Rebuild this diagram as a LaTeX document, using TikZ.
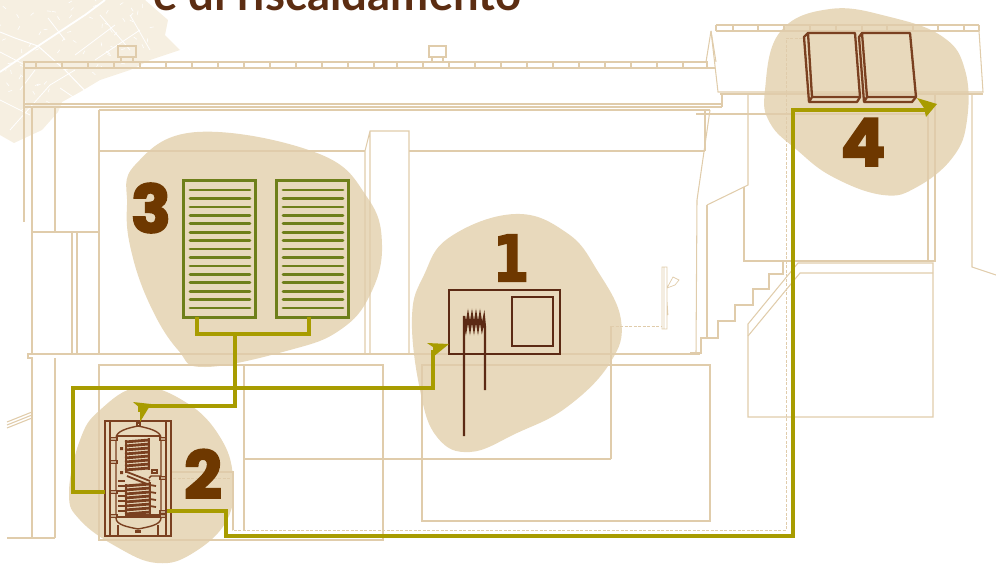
\documentclass[tikz,border=0pt]{standalone}
\usepackage{fontspec}
\setmainfont{Lato}
\newfontfamily\digitfont[FakeBold=3]{Poppins Bold}
\newfontfamily\onefont[FakeBold=2.5]{DejaVu Sans Bold}
\usetikzlibrary{calc}
\definecolor{blobc}{HTML}{E8D9BC}
\definecolor{leafc}{HTML}{F6EFE1}
\definecolor{wall}{HTML}{E0CCAB}
\definecolor{digitc}{HTML}{6E3800}
\definecolor{titlec}{HTML}{5C2D12}
\definecolor{coilc}{HTML}{5C2A14}
\definecolor{tankc}{HTML}{7A4020}
\definecolor{green1}{HTML}{6E7F1A}
\definecolor{pipec}{HTML}{A89C00}
\tikzset{
  blobfill/.style={fill=blobc,draw=none},
  wallline/.style={draw=wall,line width=1.05pt},
  walldash/.style={draw=wall,line width=1pt,dash pattern=on 3pt off 1.5pt},
  digitnode/.style={font=\digitfont\fontsize{66}{66}\selectfont,text=digitc,inner sep=0pt},
  shutter/.style={draw=green1,line width=3pt,fill=none,minimum width=72pt,minimum height=137pt,inner sep=0pt},
  slat/.style={draw=green1,line width=2.7pt,line cap=round},
  pipe/.style={draw=pipec,line width=3.3pt},
  pipehead/.style={fill=pipec,draw=none},
  boxline/.style={draw=coilc,line width=2.4pt},
  tankline/.style={draw=tankc,line width=1.4pt},
  panelline/.style={draw=tankc,line width=2.3pt,line join=round},
  crack/.style={draw=white,line width=0.8pt}
}
\begin{document}
\begin{tikzpicture}[x=1pt,y=-1pt]
\useasboundingbox (0,0) rectangle (996,563);
\clip (0,0) rectangle (996,563);
% leaf texture
\begin{scope}
\fill[leafc] (0,0) -- (145,0) -- (168,20) -- (165,35) -- (180,50) -- (150,60) -- (130,70) -- (100,80) -- (80,92) -- (62,102) -- (58,112) -- (42,130) -- (14,143) -- (0,135) -- cycle;
\draw[crack,line width=1.8pt] (0,72) -- (38,46) -- (85,15) -- (105,0);
\draw[crack,line width=1pt] (0,32) -- (15,38) -- (38,46) -- (65,70) -- (92,98);
\draw[crack] (0,100) -- (30,115) (10,130) -- (50,85) -- (75,70) (48,18) -- (65,40) (100,15) -- (130,50) (130,15) -- (150,50) (75,55) -- (115,25) (35,70) -- (20,90) (95,60) -- (140,30) (60,88) -- (85,105) (0,52) -- (25,65);
\pgfmathsetseed{7}
\foreach \i in {1,...,70}{
  \pgfmathsetmacro{\xa}{rnd*150}
  \pgfmathsetmacro{\ya}{rnd*(130-0.55*\xa)}
  \pgfmathsetmacro{\ang}{rnd*360}
  \draw[crack,line width=0.6pt] (\xa,\ya) -- ++(\ang:4);
}
\end{scope}
% title
\node[anchor=base west,inner sep=0pt,text=titlec,font=\bfseries\fontsize{45.5}{45.5}\selectfont] (title) at (153,10) {e di riscaldamento};
% blobs
\fill[blobfill] plot[smooth cycle,tension=0.7] coordinates {(127,205) (135,165) (197,132) (317,153) (367,197) (382,245) (370,295) (340,330) (290,350) (205,367) (178,350) (150,305) (131,250)};
\fill[blobfill] plot[smooth cycle,tension=0.7] coordinates {(412,317) (424,275) (450,237) (515,214) (567,233) (597,270) (621,320) (610,363) (567,407) (517,433) (470,452) (437,437) (420,390)};
\fill[blobfill] plot[smooth cycle,tension=0.7] coordinates {(69,493) (80,440) (100,410) (140,387) (187,403) (220,437) (233,477) (227,520) (193,553) (157,563) (117,547) (80,520)};
\fill[blobfill] plot[smooth cycle,tension=0.7] coordinates {(765,90) (780,32) (830,9) (890,17) (943,37) (965,70) (967,120) (953,157) (917,187) (883,195) (833,177) (797,150) (770,123)};
% left roof
\draw[wallline] (24,104) -- (24,62) -- (708,62);
\draw[wallline] (24,68) -- (715,68) (24,104) -- (722,104) (24,107) -- (722,107);
\foreach \x in {36,62,88,114,140,166,192,218,244,270,296,322,348,374,397,423,449,475,501,527,553,579,605,631,657,683,707}
  \draw[wallline] (\x,62) -- (\x,68);
\draw[wallline] (118,46) rectangle (136,57) (121,57) rectangle (133,62);
\draw[wallline] (429,46) rectangle (446,57) (432,57) rectangle (443,62);
% left wall
\draw[wallline] (24,104) -- (24,222) (32,107) -- (32,232) (55,107) -- (55,232) (32,232) -- (99,232);
\draw[wallline] (32,232) -- (32,354) (72,232) -- (72,354) (77,232) -- (77,354);
\draw[wallline] (99,110) -- (710,110) (99,110) -- (99,354);
\draw[wallline] (99,151) -- (365,151) (409,151) -- (705,151) (705,151) -- (705,110);
\draw[wallline] (365,354) -- (365,151) -- (370,131) -- (409,131) -- (409,354) (370,131) -- (370,354);
\draw[wallline] (700,354) -- (28,354) -- (28,358) -- (32,358) -- (32,538) (55,358) -- (55,538) (7,538) -- (55,538);
\draw[wallline] (7,422) -- (32,412) (7,425) -- (32,415) (7,428) -- (32,418);
% rooms
\draw[wallline] (99,365) rectangle (383,540);
\draw[wallline] (244,366) -- (244,530) (244,459) -- (611,459) (611,459) -- (611,326);
\draw[wallline] (170,472) -- (233,472) -- (233,530);
\draw[wallline] (422,365) rectangle (710,521);
\draw[walldash] (173,478) -- (232,478) -- (232,530) -- (786,530) -- (786,38) -- (805,38);
\draw[walldash] (611,326) -- (662,326);
% shower
\draw[wall,line width=0.7pt] (662,267) rectangle (667,329) (664,267) -- (664,329) (667,288) -- (673,277) -- (679,280) -- (675,285) -- (667,288) (667,300) -- (668,315);
% right building
\draw[wallline] (716,25) -- (979,25) (716,31) -- (979,31);
\foreach \x in {716,733,758,784,810,836,862,887,913,938,964,979}
  \draw[wallline] (\x,25) -- (\x,31);
\draw[wallline] (711,31) -- (718,92) -- (983,92) -- (979,31);
\draw[wallline] (711,31) -- (706,62) (711,31) -- (716,62);
\draw[wallline] (720,94) -- (983,94);
\draw[wallline] (722,94) -- (722,107);
\draw[wallline] (696,114) -- (928,114);
\draw[wallline] (710,110) -- (697,200) -- (696,353);
\draw[wallline] (707,205) -- (707,338);
\draw[wallline] (707,205) -- (748,185) -- (748,94);
\draw[wallline] (744,187) -- (744,261) -- (935,261) -- (935,94);
\draw[wallline] (928,114) -- (928,261);
\draw[wallline] (972,94) -- (972,267) -- (996,275);
\draw[wallline] (783,261) -- (783,274) -- (769,274) -- (769,289) -- (753,289) -- (753,305) -- (735,305) -- (735,321) -- (718,321) -- (718,338) -- (701,338) -- (701,353) -- (690,353);
\draw[wallline] (748,324) -- (748,417) -- (933,417) -- (933,263) -- (798,263) -- cycle;
\draw[wallline] (748,336) -- (800,273) -- (933,273);
% shutters (3)
\node[shutter] (shA) at (219,248.5) {};
\node[shutter] (shB) at (312,248.5) {};
\foreach \n in {0,...,14}{
  \pgfmathsetmacro{\y}{190+8.43*\n}
  \draw[slat] (190,\y) -- (250,\y);
  \draw[slat] (283,\y) -- (343,\y);
}
% box (1)
\node[boxline,draw,minimum width=111pt,minimum height=64pt,inner sep=0pt] (boiler) at (504.5,322) {};
\node[boxline,draw,minimum width=41pt,minimum height=49pt,inner sep=0pt] (boilerin) at (532.5,321.5) {};
\draw[boxline] (464,436) -- (464,316) -- (466,328) -- (468,316) -- (470,328) -- (472,316) -- (474,328) -- (476,316) -- (478,328) -- (480,316) -- (482,328) -- (484,318) -- (485,328) -- (485,390);
% tank (2)
\draw[tankline] (105,421) rectangle (171,536) (110,421) -- (110,536) (166,421) -- (166,536);
\draw[tankline] (116,438) .. controls (116,431) and (128,428) .. (138,426) .. controls (148,428) and (161,431) .. (161,438) -- (161,518) .. controls (161,525) and (148,527) .. (138,529) .. controls (128,527) and (116,525) .. (116,518) -- cycle;
\draw[tankline] (116,436) -- (161,436) (116,517) -- (161,517) (118,525) -- (118,536) (158,525) -- (158,536) (137,423) rectangle (140,426);
\foreach \y in {439,462,492,516}
  \draw[tankline,fill=blobc!70!tankc] (110,\y-1.5) rectangle (117,\y+1.5);
\foreach \y in {439,478,512,516}
  \draw[tankline,fill=blobc!70!tankc] (160,\y-1.5) rectangle (166,\y+1.5);
\foreach \y in {440,444,...,470}
  \draw[tankline,line width=2.8pt] (125,\y+2) -- (149,\y);
\draw[tankline,line width=2pt] (126,440) -- (126,473) (149,438) -- (149,470);
\foreach \y in {484,488,...,514}
  \draw[tankline,line width=2.8pt] (125,\y+2) -- (150,\y);
\draw[tankline,line width=2pt] (126,484) -- (126,516) (150,482) -- (150,514);
\draw[tankline,line width=2pt] (126,514.5) -- (161,514.5);
\draw[tankline,line width=1.8pt] (127,472) -- (150,481) (127,476) -- (147,484);
\foreach \y in {481,486,...,511}
  \draw[tankline,line width=1.8pt] (118,\y) -- (125,\y);
\foreach \y in {485,492,...,510}
  \draw[tankline,line width=1.8pt] (150,\y) -- (156,\y+1);
\draw[tankline] (149,478) -- (151,476) -- (161,476);
\draw[tankline,fill=blobc] (152,470) rectangle (157,473);
\fill[tankc] (120,447) rectangle (123,450) (120,471) rectangle (123,474);
\fill[tankc] (135,530) rectangle (141,533);
% panels (4)
\draw[panelline] (804,37) -- (808,33) -- (855,33) -- (860,97) -- (857,102) -- (809,102) -- cycle;
\draw[panelline] (808,33) -- (812,97) -- (860,97) (812,97) -- (809,102);
\draw[panelline] (859,37) -- (862,33) -- (910,33) -- (916,97) -- (912,102) -- (864,102) -- cycle;
\draw[panelline] (862,33) -- (867,97) -- (916,97) (867,97) -- (864,102);
% digits
\node[font=\onefont\fontsize{64}{64}\selectfont,text=digitc,inner sep=0pt,xscale=0.82,transform shape] (d1) at (511,258) {1};
\node[digitnode] (d2) at (203,474) {2};
\node[digitnode] (d3) at (151,208) {3};
\node[digitnode] (d4) at (863,142) {4};
% pipes
\coordinate (manL) at (197,317);
\coordinate (manR) at (309,317);
\draw[pipe] (manL) -- (197,334) -- (309,334) -- (manR);
\coordinate (tankTop) at (140,412);
\coordinate (tankL) at (105,492);
\coordinate (tankR) at (167,511);
\coordinate (boilIn) at (433,350);
\coordinate (panelIn) at (925,110);
\draw[pipe] (235,334) -- (235,406) -- (140,406) -- (tankTop);
\draw[pipe] (boilIn) -- (433,388) -- (73,388) -- (73,492) -- (tankL);
\draw[pipe] (tankR) -- (226,511) -- (226,536) -- (793,536) -- (793,110) -- (panelIn);
\fill[pipehead] (133,402) -- (151,404) -- (140,422) -- (140,408) -- cycle;
\fill[pipehead] (427,343) -- (449,344) -- (433,357) -- (433,347) -- cycle;
\fill[pipehead] (917,98) -- (937,104) -- (926,117) -- (924,108) -- cycle;
\end{tikzpicture}
\end{document}
